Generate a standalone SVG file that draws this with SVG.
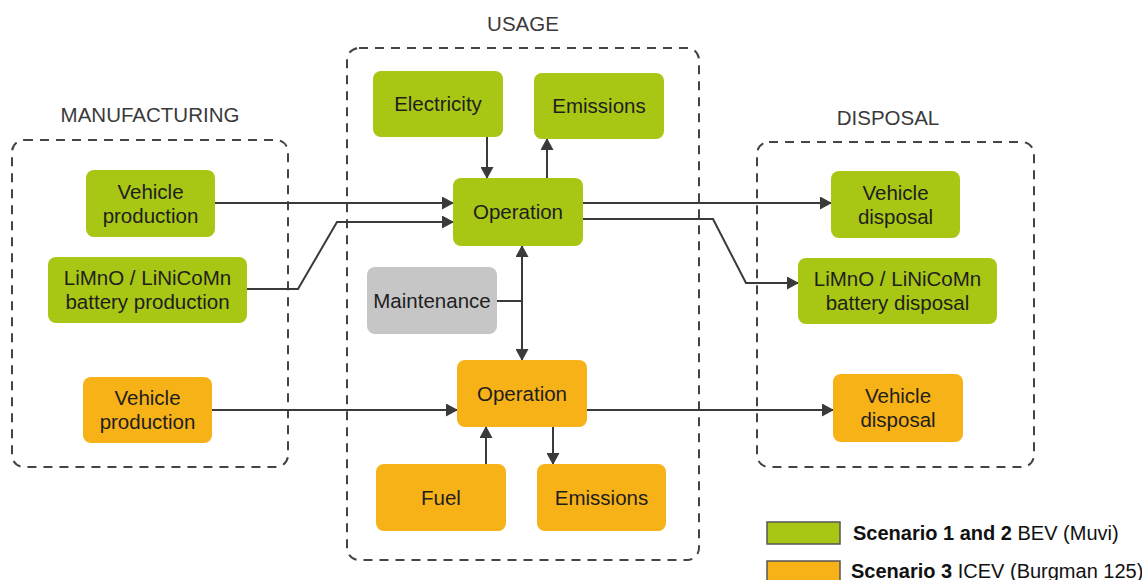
<svg xmlns="http://www.w3.org/2000/svg" width="1142" height="580" viewBox="0 0 1142 580">
<defs>
<style>
.grp{fill:none;stroke:#444;stroke-width:2;stroke-dasharray:9 7}
.hd{font-family:"Liberation Sans",Arial,sans-serif;font-size:20.5px;fill:#3a3a3a;text-anchor:middle}
.g{fill:#a8c614}
.o{fill:#f7b217}
.m{fill:#c6c6c6}
.t{font-family:"Liberation Sans",Arial,sans-serif;font-size:20.5px;fill:#1e1e1e;text-anchor:middle}
.c{fill:none;stroke:#3a3a3a;stroke-width:2}
.lg{font-family:"Liberation Sans",Arial,sans-serif;font-size:20px;fill:#111}
</style>
<marker id="ah" markerUnits="userSpaceOnUse" markerWidth="12" markerHeight="13" refX="11" refY="6.5" orient="auto">
<path d="M0,0 L12,6.5 L0,13 z" fill="#3a3a3a"/>
</marker>
</defs>
<rect width="1142" height="580" fill="#fff"/>

<g id="groups">
<rect class="grp" x="12" y="140" width="276" height="327" rx="12"/>
<rect class="grp" x="347" y="48" width="352" height="512" rx="12"/>
<rect class="grp" x="757" y="142" width="277" height="325" rx="12"/>
<text class="hd" x="150" y="122">MANUFACTURING</text>
<text class="hd" x="523" y="31">USAGE</text>
<text class="hd" x="888" y="125">DISPOSAL</text>
</g>

<g id="connectors">
<path class="c" d="M215,203 H453" marker-end="url(#ah)"/>
<path class="c" d="M247,289 H298 L337,222 H453" marker-end="url(#ah)"/>
<path class="c" d="M487,137 V178" marker-end="url(#ah)"/>
<path class="c" d="M547,178 V139" marker-end="url(#ah)"/>
<path class="c" d="M583,203 H831" marker-end="url(#ah)"/>
<path class="c" d="M583,219 H713 L746,283 H798" marker-end="url(#ah)"/>
<path class="c" d="M497,301 H522"/>
<path class="c" d="M522,301 V246" marker-end="url(#ah)"/>
<path class="c" d="M522,301 V360" marker-end="url(#ah)"/>
<path class="c" d="M212,410 H457" marker-end="url(#ah)"/>
<path class="c" d="M587,410 H833" marker-end="url(#ah)"/>
<path class="c" d="M486,464 V427" marker-end="url(#ah)"/>
<path class="c" d="M553,427 V464" marker-end="url(#ah)"/>
</g>

<g id="mfg-vehicle-bev"><rect class="g" x="86" y="170" width="129" height="67" rx="8"/><text class="t" x="150.5" y="198.5">Vehicle</text><text class="t" x="150.5" y="222.5">production</text></g>
<g id="mfg-battery-bev"><rect class="g" x="48" y="257" width="199" height="66" rx="8"/><text class="t" x="147.5" y="285">LiMnO / LiNiCoMn</text><text class="t" x="147.5" y="309">battery production</text></g>
<g id="mfg-vehicle-icev"><rect class="o" x="83" y="377" width="129" height="66" rx="8"/><text class="t" x="147.5" y="405">Vehicle</text><text class="t" x="147.5" y="429">production</text></g>

<g id="electricity"><rect class="g" x="373" y="71" width="130" height="66" rx="8"/><text class="t" x="438" y="111">Electricity</text></g>
<g id="emissions-bev"><rect class="g" x="534" y="73" width="130" height="66" rx="8"/><text class="t" x="599" y="113">Emissions</text></g>
<g id="operation-bev"><rect class="g" x="453" y="178" width="130" height="68" rx="8"/><text class="t" x="518" y="219">Operation</text></g>
<g id="maintenance"><rect class="m" x="367" y="267" width="130" height="67" rx="8"/><text class="t" x="432" y="307.5">Maintenance</text></g>
<g id="operation-icev"><rect class="o" x="457" y="360" width="130" height="67" rx="8"/><text class="t" x="522" y="400.5">Operation</text></g>
<g id="fuel"><rect class="o" x="376" y="464" width="130" height="67" rx="8"/><text class="t" x="441" y="504.5">Fuel</text></g>
<g id="emissions-icev"><rect class="o" x="537" y="464" width="129" height="67" rx="8"/><text class="t" x="601.5" y="504.5">Emissions</text></g>

<g id="disp-vehicle-bev"><rect class="g" x="831" y="171" width="129" height="67" rx="8"/><text class="t" x="895.5" y="199.5">Vehicle</text><text class="t" x="895.5" y="223.5">disposal</text></g>
<g id="disp-battery-bev"><rect class="g" x="798" y="258" width="199" height="66" rx="8"/><text class="t" x="897.5" y="286">LiMnO / LiNiCoMn</text><text class="t" x="897.5" y="310">battery disposal</text></g>
<g id="disp-vehicle-icev"><rect class="o" x="833" y="374" width="130" height="68" rx="8"/><text class="t" x="898" y="403">Vehicle</text><text class="t" x="898" y="427">disposal</text></g>

<g id="legend">
<rect class="g" x="767" y="522" width="73" height="22" stroke="#555" stroke-width="1.5"/>
<rect class="o" x="767" y="561" width="73" height="24" stroke="#555" stroke-width="1.5"/>
<text class="lg" x="853" y="540"><tspan font-weight="bold">Scenario 1 and 2</tspan> BEV (Muvi)</text>
<text class="lg" x="851" y="578"><tspan font-weight="bold">Scenario 3</tspan> ICEV (Burgman 125)</text>
</g>
</svg>
